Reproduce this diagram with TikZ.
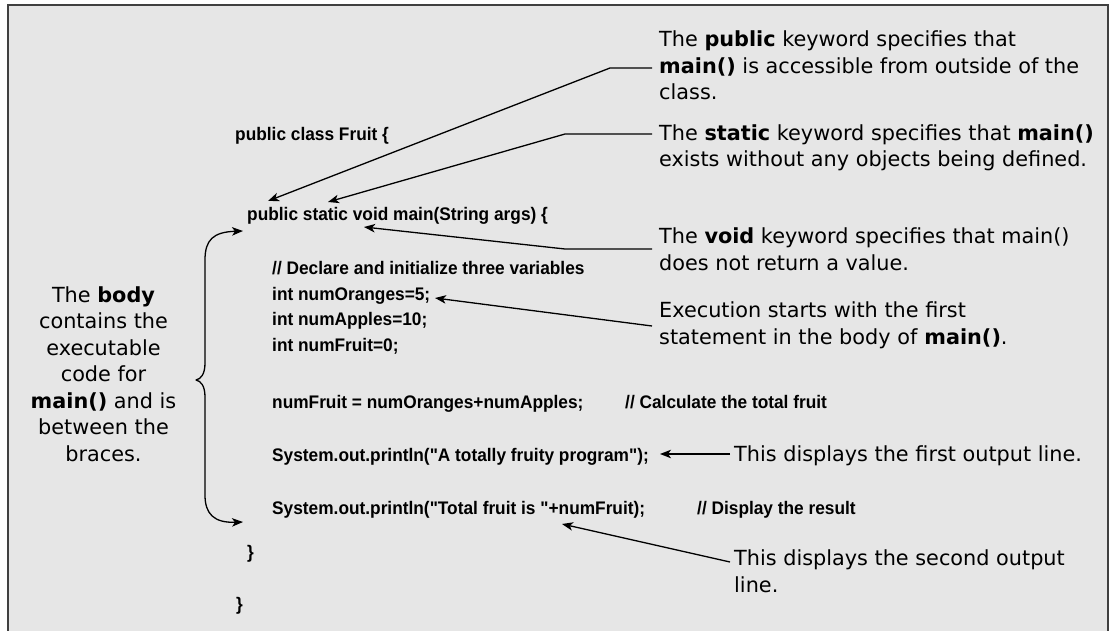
\documentclass[tikz,border=0pt]{standalone}
\usepackage{fontspec}
\setmainfont{DejaVu Sans}
\newfontfamily\codefont[FakeStretch=0.95]{Liberation Sans}
\usetikzlibrary{arrows.meta}
\definecolor{bggray}{HTML}{E6E6E6}
\definecolor{framegray}{HTML}{404040}
\begin{document}
\begin{tikzpicture}[x=1pt,y=-1pt,
  code/.style={anchor=base west, inner sep=0pt, font=\codefont\bfseries\fontsize{18.2}{21}\selectfont},
  note/.style={anchor=base west, inner sep=0pt, align=left, font=\fontsize{20.8}{26.5}\selectfont},
  tip/.style={-{Stealth[length=11pt,width=8.5pt,inset=3pt]}},
  lead/.style={draw=black, line width=1.3pt, line join=round}]
\useasboundingbox (0,0) rectangle (1116,631);
\fill[bggray] (7.5,5) rectangle (1108,631);
\draw[framegray, line width=2pt] (7.5,631) -- (7.5,5) -- (1108,5) -- (1108,631);

% code
\node[code] (c1) at (235,141) {public class Fruit \{};
\node[code] (c2) at (247,221) {public static void main(String args) \{};
\node[code] (c3) at (272,274) {// Declare and initialize three variables};
\node[code] (c4) at (272,300) {int numOranges=5;};
\node[code] (c5) at (272,325.5) {int numApples=10;};
\node[code] (c6) at (272,351) {int numFruit=0;};
\node[code] (c7) at (272,408) {numFruit = numOranges+numApples;};
\node[code] (c7c) at (625,408) {// Calculate the total fruit};
\node[code] (c8) at (272,461) {System.out.println("A totally fruity program");};
\node[code] (c9) at (272,514) {System.out.println("Total fruit is "+numFruit);};
\node[code] (c9c) at (697,514) {// Display the result};
\node[code] (c10) at (247,558) {\}};
\node[code] (c11) at (236,610) {\}};

% notes (anchor = baseline of the last line)
\node[note] (n1) at (659,100) {The \textbf{public} keyword specifies that\\\textbf{main()} is accessible from outside of the\\class.};
\node[note] (n2) at (659,167) {The \textbf{static} keyword specifies that \textbf{main()}\\exists without any objects being defined.};
\node[note] (n3) at (659,270) {The \textbf{void} keyword specifies that main()\\does not return a value.};
\node[note] (n4) at (659,344) {Execution starts with the first\\statement in the body of \textbf{main()}.};
\node[note] (n5) at (734,461) {This displays the first output line.};
\node[note] (n6) at (734,592) {This displays the second output\\line.};
\node[note, anchor=base, align=center] (n7) at (103.5,461) {The \textbf{body}\\contains the\\executable\\code for\\\textbf{main()} and is\\between the\\braces.};

% connector ends
\coordinate (tPub) at (268,201);
\coordinate (tSta) at (328,202);
\coordinate (tVoid) at (364,227);
\coordinate (tExe) at (435,298);
\coordinate (tOut1) at (660,454);
\coordinate (tOut2) at (562,524);
\coordinate (tB1) at (243,231);
\coordinate (tB2) at (243,522);
\coordinate (l1) at (652,68);
\coordinate (l2) at (652,134);
\coordinate (l3) at (652,249);
\coordinate (l4) at (652,326);
\coordinate (l5) at (730,454);
\coordinate (l6) at (730,562);

\draw[lead, tip] (l1) -- (610,68) -- (tPub);
\draw[lead, tip] (l2) -- (565,134) -- (tSta);
\draw[lead, tip] (l3) -- (565,249) -- (tVoid);
\draw[lead, tip] (l4) -- (tExe);
\draw[lead, tip] (l5) -- (tOut1);
\draw[lead, tip] (l6) -- (tOut2);

% brace
\draw[lead, {Stealth[length=11pt,width=8.5pt,inset=3pt]}-{Stealth[length=11pt,width=8.5pt,inset=3pt]}]
  (tB2) .. controls (214,523) and (205,514) .. (205,495)
  -- (205,397) .. controls (205,386) and (201,381) .. (196,380)
  .. controls (201,379) and (205,374) .. (205,363)
  -- (205,260) .. controls (205,240) and (213,232) .. (tB1);
\end{tikzpicture}
\end{document}
